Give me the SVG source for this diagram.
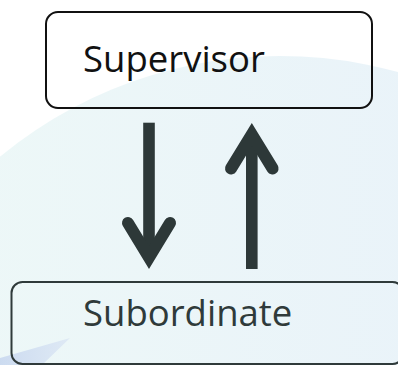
<svg xmlns="http://www.w3.org/2000/svg" width="398" height="365" viewBox="0 0 398 365">
  <defs>
    <linearGradient id="bg" x1="0" y1="0" x2="1" y2="0">
      <stop offset="0" stop-color="#eef9f7"/>
      <stop offset="1" stop-color="#e7f0fa"/>
    </linearGradient>
    <linearGradient id="wedge" x1="0" y1="0" x2="1" y2="0">
      <stop offset="0" stop-color="#c4d4ee"/>
      <stop offset="1" stop-color="#dbe6f4"/>
    </linearGradient>
  </defs>
  <style>
    .box { fill: none; stroke-width: 2; }
    .lbl { font-family: "Open Sans", "Liberation Sans", sans-serif; font-size: 36.5px; }
    .shaft { fill: #2d3838; }
    .head { fill: none; stroke: #2d3838; stroke-width: 12; stroke-linecap: round; stroke-linejoin: miter; stroke-miterlimit: 4; }
  </style>
  <rect width="398" height="365" fill="#ffffff"/>
  <circle cx="280" cy="496" r="440" fill="url(#bg)"/>
  <polygon points="0,365 0,358 70,338 42,365" fill="url(#wedge)" opacity="0.8"/>

  <g id="supervisor">
    <rect class="box" x="46" y="12" width="326" height="96" rx="12" stroke="#111111"/>
    <text class="lbl" x="83" y="72" fill="#111111">Supervisor</text>
  </g>

  <g id="subordinate">
    <rect class="box" x="11.5" y="282" width="392" height="82" rx="11" stroke="#2f3a3a"/>
    <text class="lbl" x="83" y="326" fill="#2f3a3a">Subordinate</text>
  </g>

  <g id="connectors">
    <g id="down-arrow">
      <rect class="shaft" x="143.2" y="122.7" width="11.6" height="132"/>
      <polyline class="head" points="128,223 149,257.5 170,223"/>
    </g>
    <g id="up-arrow">
      <rect class="shaft" x="246" y="137" width="11.6" height="132"/>
      <polyline class="head" points="231,168.5 251.8,134.5 272.6,168.5"/>
    </g>
  </g>
</svg>
